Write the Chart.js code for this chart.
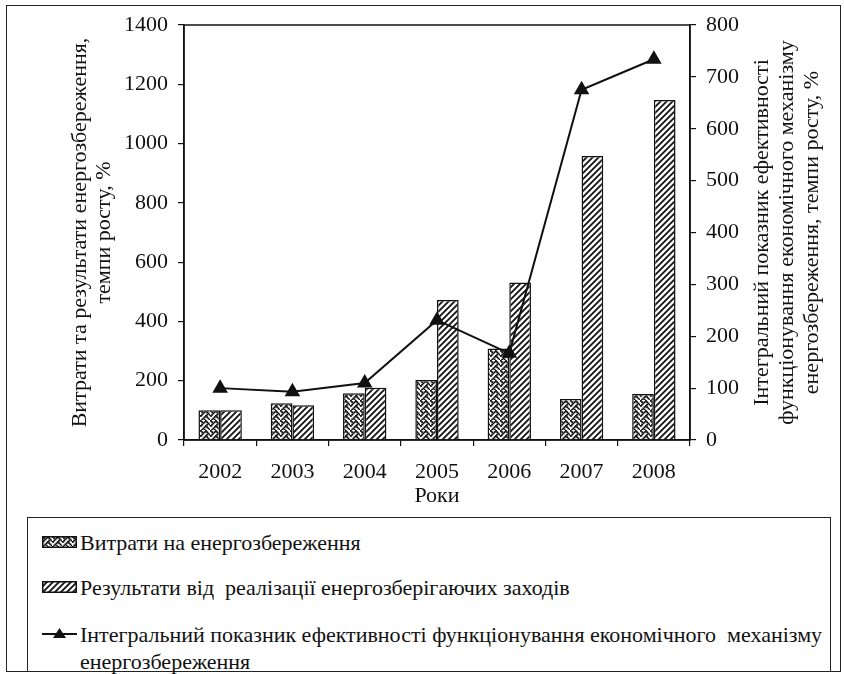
<!DOCTYPE html>
<html>
<head>
<meta charset="utf-8">
<script src="https://cdn.jsdelivr.net/npm/chart.js@4.4.1/dist/chart.umd.min.js"></script>
<style>
  body { margin: 0; background: #fff; width: 844px; height: 674px; position: relative; overflow: hidden;
         font-family: "Liberation Serif", "Times New Roman", serif; color: #111; }
  #frame { position: absolute; left: 6px; top: 5px; width: 835px; height: 667px; border: 1px solid #222; box-sizing: border-box; }
  #wrap { position: absolute; left: 0; top: 0; width: 844px; height: 512px; }
  #legend { position: absolute; left: 27px; top: 517px; width: 804px; height: 155px; border: 1px solid #222;
            box-sizing: border-box; font-size: 22px; }
  .item { position: absolute; left: 14px; display: flex; align-items: flex-start; }
  .item canvas { margin-top: 7px; margin-right: 3px; }
  .item span { white-space: pre; line-height: 27px; }
</style>
</head>
<body>
<div id="frame"></div>
<div id="wrap"><canvas id="chart"></canvas></div>
<div id="legend"></div>
<script>
const years = ['2002', '2003', '2004', '2005', '2006', '2007', '2008'];
const spending = [100, 124, 158, 202, 309, 138, 155];
const results = [100, 117, 176, 472, 531, 958, 1147];
const efficiency = [100, 93, 110, 231, 167, 675, 734];
const leftTicks = [0, 200, 400, 600, 800, 1000, 1200, 1400];
const rightTicks = [0, 100, 200, 300, 400, 500, 600, 700, 800];

const seriesNames = [
  'Витрати на енергозбереження',
  'Результати від  реалізації енергозберігаючих заходів',
  'Інтегральний показник ефективності функціонування економічного  механізму\nенергозбереження',
];
const leftTitle = ['Витрати та результати енергозбереження,', 'темпи росту, %'];
const rightTitle = ['Інтегральний показник ефективності', 'функціонування економічного механізму', 'енергозбереження, темпи росту, %'];

const INK = '#111';
const FONT = { family: '"Liberation Serif", "Times New Roman", serif', size: 22, lineHeight: 1.1 };

// office-style "weave" bitmap, scaled up a little
const WEAVE = [0x88, 0x54, 0x22, 0x45, 0x88, 0x14, 0x22, 0x51];
function weavePattern(ctx) {
  const k = 1.25;
  const c = document.createElement('canvas');
  c.width = 10; c.height = 10;
  const g = c.getContext('2d');
  g.fillStyle = '#fff'; g.fillRect(0, 0, 10, 10);
  g.fillStyle = INK;
  WEAVE.forEach((row, y) => {
    for (let x = 0; x < 8; x++) {
      if (row & (0x80 >> x)) g.fillRect(x * k, y * k, k + 0.6, k + 0.6);
    }
  });
  return ctx.createPattern(c, 'repeat');
}

function hatchPattern(ctx) {
  const c = document.createElement('canvas');
  c.width = 6; c.height = 6;
  const g = c.getContext('2d');
  g.fillStyle = '#fff'; g.fillRect(0, 0, 6, 6);
  g.strokeStyle = INK; g.lineWidth = 1.8;
  g.beginPath();
  g.moveTo(-3, 3); g.lineTo(3, -3);
  g.moveTo(0, 6); g.lineTo(6, 0);
  g.moveTo(3, 9); g.lineTo(9, 3);
  g.stroke();
  return ctx.createPattern(c, 'repeat');
}

const ctx = document.getElementById('chart').getContext('2d');

const frameBox = {
  id: 'frameBox',
  afterDatasetsDraw(chart) {
    const { ctx, chartArea: a } = chart;
    ctx.save();
    ctx.strokeStyle = INK; ctx.lineWidth = 1.5;
    ctx.strokeRect(a.left, a.top, a.right - a.left, a.bottom - a.top);
    ctx.restore();
  },
  afterDraw(chart) {
    // right-hand title reads bottom-to-top, like the left one
    const s = chart.scales.y1;
    const { ctx } = chart;
    ctx.save();
    ctx.fillStyle = INK;
    ctx.font = `${FONT.size}px ${FONT.family}`;
    ctx.textAlign = 'center';
    ctx.textBaseline = 'middle';
    ctx.translate(s.right - 82, (s.top + s.bottom) / 2);
    ctx.rotate(-Math.PI / 2);
    rightTitle.forEach((t, i) => ctx.fillText(t, 0, i * 25));
    ctx.restore();
  },
};

const axisLook = {
  grid: { display: true, drawOnChartArea: false, tickLength: 6, color: INK, lineWidth: 1.2 },
  border: { color: INK, width: 1.5 },
};
const plain = (v) => String(v);

new Chart(ctx, {
  data: {
    labels: years,
    datasets: [
      { type: 'line', label: seriesNames[2], data: efficiency, yAxisID: 'y1', order: 0,
        borderColor: INK, borderWidth: 2, tension: 0,
        pointStyle: 'triangle', pointRadius: 7, pointBackgroundColor: INK, pointBorderColor: INK },
      { type: 'bar', label: seriesNames[0], data: spending, yAxisID: 'y', order: 1,
        backgroundColor: weavePattern(ctx), borderColor: INK, borderWidth: 1.5,
        categoryPercentage: 0.6, barPercentage: 1 },
      { type: 'bar', label: seriesNames[1], data: results, yAxisID: 'y', order: 1,
        backgroundColor: hatchPattern(ctx), borderColor: INK, borderWidth: 1.5,
        categoryPercentage: 0.6, barPercentage: 1 },
    ],
  },
  options: {
    responsive: true,
    maintainAspectRatio: false,
    animation: false,
    layout: { padding: { top: 25, left: 0, right: 0, bottom: 0 } },
    plugins: { legend: { display: false }, tooltip: { enabled: false } },
    scales: {
      x: {
        ...axisLook,
        ticks: { color: INK, font: FONT, padding: 14 },
        title: { display: true, text: 'Роки', color: INK, font: FONT, padding: { top: 0 } },
        afterFit: (s) => { s.height = 72; },
      },
      y: {
        ...axisLook,
        position: 'left',
        min: leftTicks[0], max: leftTicks[leftTicks.length - 1],
        ticks: { stepSize: leftTicks[1] - leftTicks[0], color: INK, font: FONT, padding: 10, callback: plain },
        title: { display: true, text: leftTitle, color: INK, font: FONT, padding: { top: 68 } },
        afterFit: (s) => { s.width = 184; },
      },
      y1: {
        ...axisLook,
        position: 'right',
        min: rightTicks[0], max: rightTicks[rightTicks.length - 1],
        ticks: { stepSize: rightTicks[1] - rightTicks[0], color: INK, font: FONT, padding: 10, callback: plain },
        afterFit: (s) => { s.width = 154; },
      },
    },
  },
  plugins: [frameBox],
});

// legend
const legend = document.getElementById('legend');
const boxSwatch = (fill) => (g) => {
  g.fillStyle = fill(g); g.fillRect(0, 0, 35, 12);
  g.strokeStyle = INK; g.lineWidth = 1.5; g.strokeRect(0.75, 0.75, 33.5, 10.5);
};
const rows = [
  { top: 11, draw: boxSwatch(weavePattern) },
  { top: 56, draw: boxSwatch(hatchPattern) },
  { top: 103, draw: (g) => {
      g.strokeStyle = INK; g.lineWidth = 2; g.beginPath(); g.moveTo(0, 6); g.lineTo(35, 6); g.stroke();
      g.fillStyle = INK; g.beginPath(); g.moveTo(17.5, 0); g.lineTo(24, 10); g.lineTo(11, 10); g.closePath(); g.fill();
    } },
];
rows.forEach((r, i) => {
  const item = document.createElement('div');
  item.className = 'item';
  item.style.top = r.top + 'px';
  const sw = document.createElement('canvas');
  sw.width = 35; sw.height = 12;
  r.draw(sw.getContext('2d'));
  const txt = document.createElement('span');
  txt.textContent = seriesNames[i];
  item.appendChild(sw);
  item.appendChild(txt);
  legend.appendChild(item);
});
</script>
</body>
</html>
